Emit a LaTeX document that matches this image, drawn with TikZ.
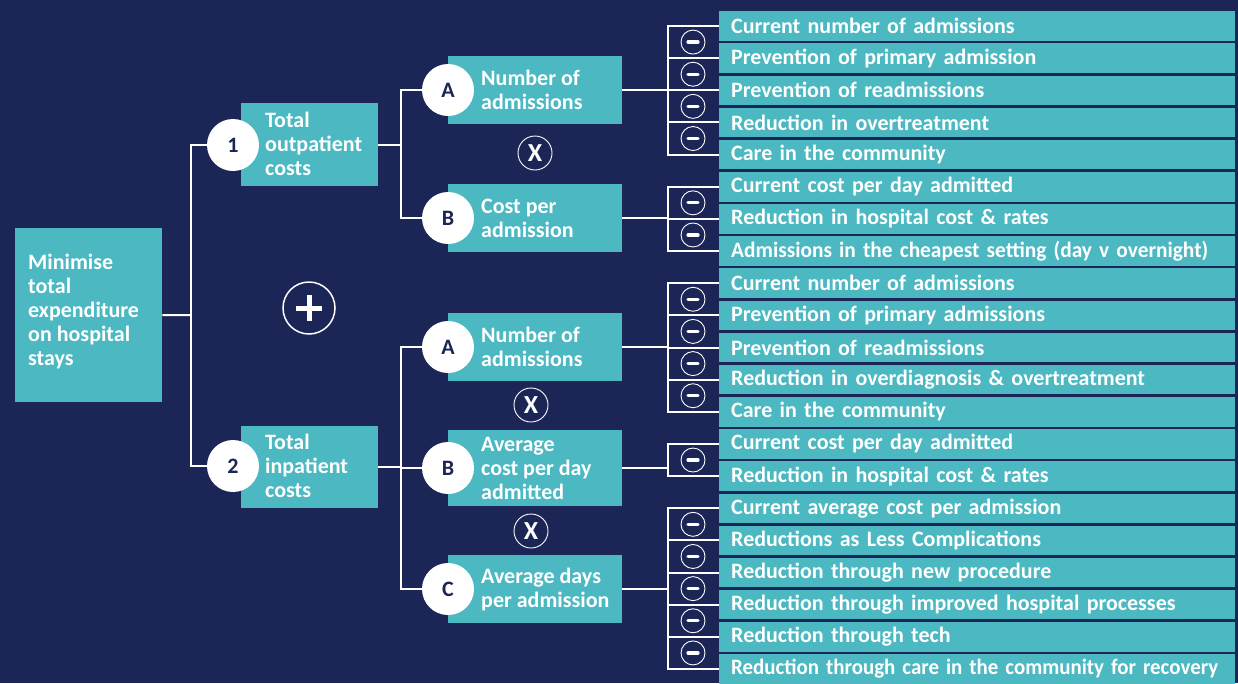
\documentclass[tikz,border=0pt]{standalone}
\usepackage{fontspec}
\usepackage{graphicx}
\setmainfont{Carlito}
\definecolor{navybg}{HTML}{1B2656}
\definecolor{tealbox}{HTML}{4BB8C2}
\newcommand\mybasefont{\bfseries\fontsize{22}{24}\selectfont}
\tikzset{
  base font/.style={font=\mybasefont},
  tbox/.style={fill=tealbox, draw=none, inner sep=0, anchor=north west},
  lbl/.style={base font, text=white, align=left, anchor=west, inner sep=0},
  numc/.style={circle, fill=white, draw=none, minimum size=52pt, inner sep=0, text=navybg, base font},
  conn/.style={draw=white, line width=2pt},
  rowbox/.style={fill=tealbox, base font, text=white, align=left, anchor=west,
    text width=492pt, inner xsep=12pt, inner ysep=0pt, minimum height=29.5pt},
  minusc/.style={circle, draw=white, line width=0.9pt, minimum size=24pt, inner sep=0,
    path picture={\draw[white, line width=3.2pt, line cap=round] ([xshift=-5pt]path picture bounding box.center) -- ([xshift=5pt]path picture bounding box.center);}},
  timesc/.style={circle, draw=white, line width=0.9pt, minimum size=34pt, inner sep=0, text=white,
    font=\bfseries\fontsize{26}{26}\selectfont},
  plusc/.style={circle, draw=white, line width=1.5pt, minimum size=52pt, inner sep=0,
    path picture={\draw[white, line width=5pt] ([xshift=-13pt]path picture bounding box.center) -- ([xshift=13pt]path picture bounding box.center);
      \draw[white, line width=5pt] ([yshift=-13pt]path picture bounding box.center) -- ([yshift=13pt]path picture bounding box.center);}},
}
\begin{document}
\begin{tikzpicture}[x=1pt, y=-1pt]
\fill[navybg] (0,0) rectangle (1238,683);
\useasboundingbox (0,0) rectangle (1238,683);

% goal
\node[tbox, minimum width=147pt, minimum height=174pt] (goal) at (15,228) {};
\node[lbl] (tg) at (28,312) {Minimise\\total\\expenditure\\on hospital\\stays};

% level 1
\node[tbox, minimum width=137pt, minimum height=83pt] (b1) at (241,103) {};
\node[lbl] (t1) at (265,144) {Total\\outpatient\\costs};
\node[numc] (c1) at (233,145) {1};

\node[tbox, minimum width=137pt, minimum height=82pt] (b2) at (241,426) {};
\node[lbl] (t2) at (265,466) {Total\\inpatient\\costs};
\node[numc] (c2) at (233,466) {2};

\node[plusc] (plus) at (309,308) {};

% level 2 outpatient
\node[tbox, minimum width=174pt, minimum height=68pt] (bA1) at (448,56) {};
\node[lbl] (tA1) at (481,90) {Number of\\admissions};
\node[numc] (cA1) at (448,90) {A};
\node[tbox, minimum width=174pt, minimum height=68pt] (bB1) at (448,184) {};
\node[lbl] (tB1) at (481,218) {Cost per\\admission};
\node[numc] (cB1) at (448,218) {B};
\node[timesc] (x1) at (535,153) {X};

% level 2 inpatient
\node[tbox, minimum width=174pt, minimum height=68pt] (bA2) at (448,313) {};
\node[lbl] (tA2) at (481,347) {Number of\\admissions};
\node[numc] (cA2) at (448,347) {A};
\node[tbox, minimum width=174pt, minimum height=76pt] (bB2) at (448,430) {};
\node[lbl] (tB2) at (481,468) {Average\\cost per day\\admitted};
\node[numc] (cB2) at (448,468) {B};
\node[tbox, minimum width=174pt, minimum height=68pt] (bC2) at (448,555) {};
\node[lbl] (tC2) at (481,589) {Average days\\per admission};
\node[numc] (cC2) at (448,589) {C};
\node[timesc] (x2) at (531,405) {X};
\node[timesc] (x3) at (531,531) {X};

% rows
\foreach \i/\t in {
 1/Current number of admissions,
 2/Prevention of primary admission,
 3/Prevention of readmissions,
 4/Reduction in overtreatment,
 5/Care in the community,
 6/Current cost per day admitted,
 7/Reduction in hospital cost \& rates,
 8/{\resizebox{477pt}{\height}{Admissions in the cheapest setting (day v overnight)}},
 9/Current number of admissions,
 10/Prevention of primary admissions,
 11/Prevention of readmissions,
 12/Reduction in overdiagnosis \& overtreatment,
 13/Care in the community,
 14/Current cost per day admitted,
 15/Reduction in hospital cost \& rates,
 16/Current average cost per admission,
 17/Reductions as Less Complications,
 18/Reduction through new procedure,
 19/Reduction through improved hospital processes,
 20/Reduction through tech,
 21/{\resizebox{487pt}{\height}{Reduction through care in the community for recovery}}}
{
  \node[rowbox] (r\i) at (719,{26+32.15*(\i-1)}) {\mbox{\t}};
}

% connectors left part
\coordinate (j0) at (191,315);
\draw[conn] (goal.east) -- (j0);
\draw[conn] (c1.west) -- (c1.west -| j0) -- (c2.west -| j0) -- (c2.west);

\coordinate (j1) at (401,145);
\draw[conn] (b1.east) -- (b1.east -| j1);
\draw[conn] (cA1.west) -- (cA1.west -| j1) -- (cB1.west -| j1) -- (cB1.west);

\coordinate (j2) at (401,467);
\draw[conn] (b2.east) -- (b2.east -| j2);
\draw[conn] (cA2.west) -- (cA2.west -| j2) -- (cC2.west -| j2) -- (cC2.west);
\draw[conn] (cB2.west) -- (cB2.west -| j2);

% brackets
\coordinate (k) at (668,0);
\foreach \a/\b in {1/5, 6/8, 9/13, 14/15, 16/21}{
  \draw[conn] (r\a.west) -- (r\a.west -| k) -- (r\b.west -| k) -- (r\b.west);
}
\foreach \i in {2,3,4,7,10,11,12,17,18,19,20}{
  \draw[conn] (r\i.west) -- (r\i.west -| k);
}
\draw[conn] (bA1.east) -- (bA1.east -| k);
\draw[conn] (bB1.east) -- (bB1.east -| k);
\draw[conn] (bA2.east) -- (bA2.east -| k);
\draw[conn] (bB2.east) -- (bB2.east -| k);
\draw[conn] (bC2.east) -- (bC2.east -| k);

% minus circles
\foreach \i in {1,2,3,4,6,7,9,10,11,12,14,16,17,18,19,20}{
  \node[minusc] (m\i) at (693,{26+32.15*(\i-1)+16.075}) {};
}
\end{tikzpicture}
\end{document}
